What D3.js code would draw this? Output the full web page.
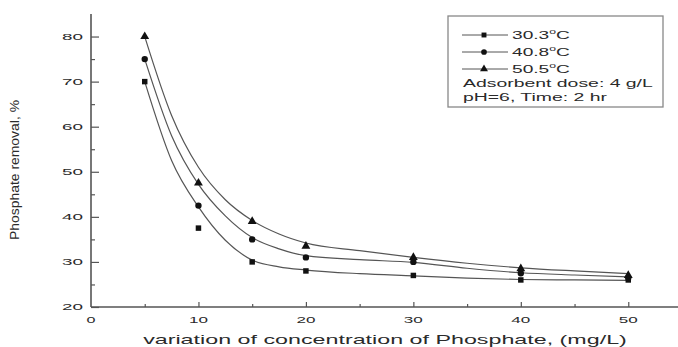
<!DOCTYPE html>
<html lang="en">
<head>
<meta charset="UTF-8">
<title>Phosphate removal</title>
<script src="https://cdnjs.cloudflare.com/ajax/libs/d3/7.8.5/d3.min.js"></script>
<style>
    html, body { margin: 0; padding: 0; background: #fff; }
    svg { display: block; }
    text { font-family: "Liberation Sans", Arial, sans-serif; fill: #2a2a2a; }
</style>
</head>
<body>
<div id="chart"></div>
<script>
// measured points
const concentration = [5, 10, 15, 20, 30, 40, 50];
const temp30 = [70, 37.5, 30, 28, 27, 26, 26];
const temp40 = [75, 42.5, 35, 31, 30, 27.5, 26.5];
const temp50 = [80, 47.5, 39, 33.5, 31, 28.5, 27];

// fitted curves
const fitX = [5, 7.5, 10, 12.5, 15, 17.5, 20, 25, 30, 35, 40, 45, 50];
const fit30 = [70, 52.5, 42.2, 34.8, 30.4, 28.9, 28.2, 27.4, 26.9, 26.4, 26.1, 26.0, 25.9];
const fit40 = [75, 58, 47.2, 40.2, 35.4, 32.9, 31.4, 30.5, 29.9, 28.6, 27.6, 27.1, 26.7];
const fit50 = [80, 62.5, 51.0, 43.8, 39.2, 36.2, 34.2, 32.5, 31.0, 29.7, 28.7, 28.0, 27.4];

const seriesNames = ["30.3", "40.8", "50.5"];
const xTicks = [0, 10, 20, 30, 40, 50];
const yTicks = [20, 30, 40, 50, 60, 70, 80];
const noteLines = ["Adsorbent dose: 4 g/L", "pH=6, Time: 2 hr"];

const W = 678, H = 347;
const svg = d3.select("#chart").append("svg").attr("width", W).attr("height", H);

const x = d3.scaleLinear().domain([0, 55]).range([91, 682]);
const y = d3.scaleLinear().domain([20, 85]).range([307, 14]);

const axisColor = "#555";

// stretch a text element horizontally to a target width
function fitWidth(sel, target) {
    sel.each(function () {
        const t = d3.select(this);
        const w = this.getComputedTextLength();
        const ax = +t.attr("x"), ay = +t.attr("y");
        const s = target / w;
        t.attr("transform", `translate(${ax},${ay}) scale(${s},1) translate(${-ax},${-ay})`);
    });
}

// y axis
svg.append("g").attr("transform", `translate(${x(0)},0)`)
    .call(d3.axisRight(y).tickValues(yTicks).tickSize(8).tickFormat(""))
    .call(g => g.select(".domain").remove())
    .selectAll("line").attr("stroke", axisColor).attr("stroke-width", 1.2);
svg.append("g").attr("transform", `translate(${x(0)},0)`)
    .call(d3.axisRight(y).tickValues(d3.range(25, 85, 10)).tickSize(4).tickFormat(""))
    .call(g => g.select(".domain").remove())
    .selectAll("line").attr("stroke", axisColor).attr("stroke-width", 1.2);

svg.append("line").attr("x1", x(0)).attr("x2", x(0)).attr("y1", y(20)).attr("y2", y(85))
    .attr("stroke", axisColor).attr("stroke-width", 1.6);

svg.append("g").selectAll("text").data(yTicks).join("text")
    .attr("x", 83).attr("y", d => y(d) + 3.5)
    .attr("text-anchor", "end").attr("font-size", 9.5)
    .text(d => d)
    .call(s => fitWidth(s, 21));

// x axis
svg.append("g").attr("transform", `translate(0,${y(20)})`)
    .call(d3.axisTop(x).tickValues(xTicks.slice(1)).tickSize(5).tickFormat(""))
    .call(g => g.select(".domain").remove())
    .selectAll("line").attr("stroke", axisColor).attr("stroke-width", 1.2);
svg.append("g").attr("transform", `translate(0,${y(20)})`)
    .call(d3.axisTop(x).tickValues(d3.range(5, 55, 10)).tickSize(3).tickFormat(""))
    .call(g => g.select(".domain").remove())
    .selectAll("line").attr("stroke", axisColor).attr("stroke-width", 1.2);

svg.append("line").attr("x1", x(0)).attr("x2", W).attr("y1", y(20)).attr("y2", y(20))
    .attr("stroke", axisColor).attr("stroke-width", 1.6);

svg.append("g").selectAll("text").data(xTicks).join("text")
    .attr("x", d => x(d)).attr("y", 323)
    .attr("text-anchor", "middle").attr("font-size", 9.5)
    .text(d => d)
    .each(function (d) { fitWidth(d3.select(this), d === 0 ? 9 : 19); });

// axis titles
svg.append("text")
    .attr("x", 385).attr("y", 344)
    .attr("text-anchor", "middle").attr("font-size", 13)
    .text("variation of concentration of Phosphate, (mg/L)")
    .call(s => fitWidth(s, 484));

svg.append("text")
    .attr("transform", "translate(19,170) rotate(-90)")
    .attr("text-anchor", "middle").attr("font-size", 12)
    .attr("textLength", 140).attr("lengthAdjust", "spacingAndGlyphs")
    .text("Phosphate removal, %");

// fitted curves
const line = d3.line().x(d => x(d[0])).y(d => y(d[1])).curve(d3.curveMonotoneX);
[fit30, fit40, fit50].forEach(f => {
    svg.append("path")
        .datum(fitX.map((v, i) => [v, f[i]]))
        .attr("d", line)
        .attr("fill", "none").attr("stroke", "#555").attr("stroke-width", 1.2);
});

// markers
const shapes = [d3.symbolSquare, d3.symbolCircle, d3.symbolTriangle];
const sizes = [30, 32, 34];
[temp30, temp40, temp50].forEach((vals, k) => {
    svg.append("g").selectAll("path").data(vals).join("path")
        .attr("transform", (d, i) => `translate(${x(concentration[i])},${y(d)})`)
        .attr("d", d3.symbol().type(shapes[k]).size(sizes[k]))
        .attr("fill", "#111");
});

// legend
const legend = svg.append("g");
legend.append("rect")
    .attr("x", 448).attr("y", 16).attr("width", 215).attr("height", 91)
    .attr("fill", "#fff").attr("stroke", "#888").attr("stroke-width", 1.3);

const rowY = [35, 52, 69];
seriesNames.forEach((name, k) => {
    legend.append("line")
        .attr("x1", 462).attr("x2", 508).attr("y1", rowY[k]).attr("y2", rowY[k])
        .attr("stroke", "#555").attr("stroke-width", 1);
    legend.append("path")
        .attr("transform", `translate(484,${rowY[k]})`)
        .attr("d", d3.symbol().type(shapes[k]).size(sizes[k] * 0.8))
        .attr("fill", "#111");
    const t = legend.append("text")
        .attr("x", 512).attr("y", rowY[k] + 4)
        .attr("font-size", 11);
    t.append("tspan").text(name);
    t.append("tspan").attr("font-size", 7).attr("dy", -5).text("o");
    t.append("tspan").attr("dy", 5).text("C");
    fitWidth(t, 58);
});

const noteY = [87.5, 101.5];
noteLines.forEach((s, i) => {
    legend.append("text")
        .attr("x", 463).attr("y", noteY[i])
        .attr("font-size", 11)
        .text(s)
        .call(t => fitWidth(t, i === 0 ? 190 : 144));
});
</script>
</body>
</html>
